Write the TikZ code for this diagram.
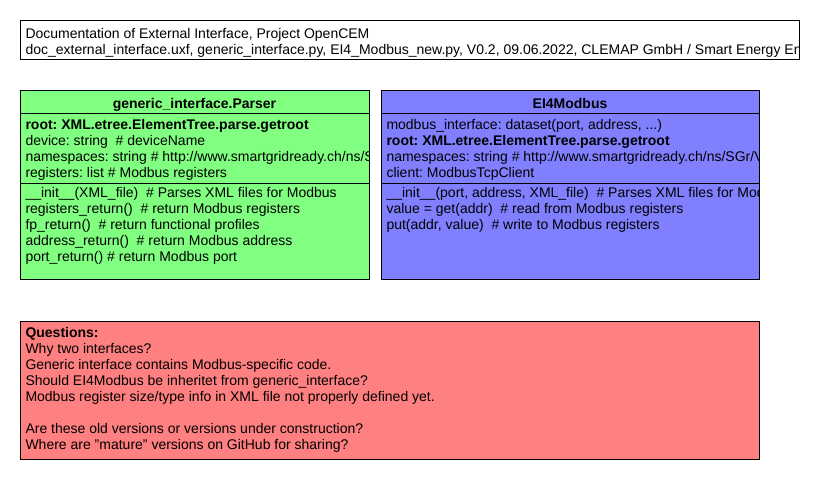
\documentclass[tikz,border=0pt]{standalone}
\usepackage{fontspec}
\setmainfont{Liberation Sans}
\usepackage{tikz}
\frenchspacing
\definecolor{parsergreen}{RGB}{128,255,128}
\definecolor{modbusblue}{RGB}{128,128,255}
\definecolor{questionred}{RGB}{255,128,128}
\begin{document}
\begin{tikzpicture}[x=1pt,y=-1pt,line width=1pt,
	txt/.style={anchor=base west,inner sep=0pt,font=\fontsize{14}{16}\selectfont},
	btxt/.style={txt,font=\fontsize{14}{16}\selectfont\bfseries},
	head/.style={anchor=base,inner sep=0pt,font=\fontsize{14}{16}\selectfont\bfseries}]
	\useasboundingbox (0,0) rectangle (820,480);
%	title box
	\fill [white] (20,20) rectangle (799,59);
	\begin{scope}
		\clip (20,20) rectangle (799,59);
		\node [txt] (doc1) at (25,38) {Documentation of External Interface, Project OpenCEM};
		\node [txt] (doc2) at (25,54) {doc\_external\_interface.uxf, generic\_interface.py, EI4\_Modbus\_new.py, V0.2, 09.06.2022, CLEMAP GmbH / Smart Energy Engineering};
	\end{scope}
	\draw (20,20) rectangle (799,59);
%	generic_interface.Parser
	\fill [parsergreen] (20,90) rectangle (369,279);
	\begin{scope}
		\clip (20,90) rectangle (369,279);
		\node [head] (parser) at (194.5,108) {generic\_interface.Parser};
		\node [btxt] (proot) at (25,129) {root: XML.etree.ElementTree.parse.getroot};
		\node [txt] (pdevice) at (25,145) {device: string\ \ \# deviceName};
		\node [txt] (pns) at (25,161) {namespaces: string \# http://www.smartgridready.ch/ns/SGr/V0/};
		\node [txt] (preg) at (25,177) {registers: list \# Modbus registers};
		\node [txt] (pinit) at (25,197) {\_\_init\_\_(XML\_file)\ \ \# Parses XML files for Modbus};
		\node [txt] (pregret) at (25,213) {registers\_return()\ \ \# return Modbus registers};
		\node [txt] (pfp) at (25,229) {fp\_return()\ \ \# return functional profiles};
		\node [txt] (paddr) at (25,245) {address\_return()\ \ \# return Modbus address};
		\node [txt] (pport) at (25,261) {port\_return() \# return Modbus port};
	\end{scope}
	\draw (20,90) rectangle (369,279);
	\draw (20,113) -- (369,113);
	\draw (20,183) -- (369,183);
%	EI4Modbus
	\fill [modbusblue] (381,90) rectangle (759,279);
	\begin{scope}
		\clip (381,90) rectangle (759,279);
		\node [head] (modbus) at (570,108) {EI4Modbus};
		\node [txt] (miface) at (386,129) {modbus\_interface: dataset(port, address, ...)};
		\node [btxt] (mroot) at (386,145) {root: XML.etree.ElementTree.parse.getroot};
		\node [txt] (mns) at (386,161) {namespaces: string \# http://www.smartgridready.ch/ns/SGr/V0/};
		\node [txt] (mclient) at (386,177) {client: ModbusTcpClient};
		\node [txt] (minit) at (386,197) {\_\_init\_\_(port, address, XML\_file)\ \ \# Parses XML files for Modbus};
		\node [txt] (mget) at (386,213) {value = get(addr)\ \ \# read from Modbus registers};
		\node [txt] (mput) at (386,229) {put(addr, value)\ \ \# write to Modbus registers};
	\end{scope}
	\draw (381,90) rectangle (759,279);
	\draw (381,113) -- (759,113);
	\draw (381,183) -- (759,183);
%	questions
	\fill [questionred] (20,321) rectangle (759,459);
	\node [btxt] (q0) at (25,337) {Questions:};
	\node [txt] (q1) at (25,353) {Why two interfaces?};
	\node [txt] (q2) at (25,369) {Generic interface contains Modbus-specific code.};
	\node [txt] (q3) at (25,385) {Should EI4Modbus be inheritet from generic\_interface?};
	\node [txt] (q4) at (25,401) {Modbus register size/type info in XML file not properly defined yet.};
	\node [txt] (q5) at (25,433) {Are these old versions or versions under construction?};
	\node [txt] (q6) at (25,449) {Where are "mature" versions on GitHub for sharing?};
	\draw (20,321) rectangle (759,459);
\end{tikzpicture}
\end{document}
